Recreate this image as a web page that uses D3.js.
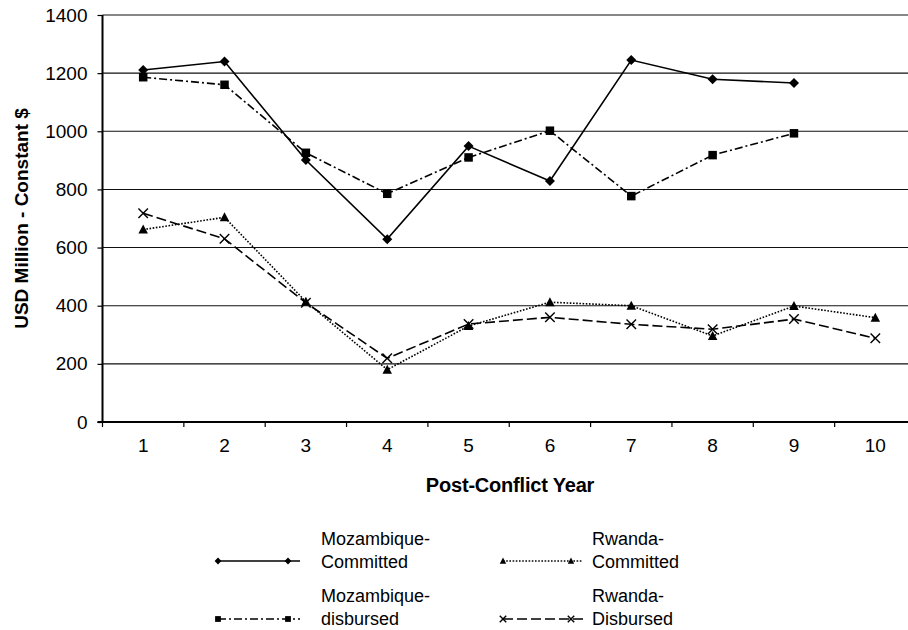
<!DOCTYPE html>
<html>
<head>
<meta charset="utf-8">
<script src="https://cdn.jsdelivr.net/npm/d3@7"></script>
<style>
  html, body { margin: 0; padding: 0; background: #fff; }
  svg { display: block; overflow: hidden; }
  text { font-family: "Liberation Sans", Arial, Helvetica, sans-serif; fill: #000; }
</style>
</head>
<body>
<svg id="chart" width="908" height="630"></svg>
<script>
// Post-conflict aid flows, USD million (constant $)
const years = ["1", "2", "3", "4", "5", "6", "7", "8", "9", "10"];
const yTicks = [0, 200, 400, 600, 800, 1000, 1200, 1400];

const mozCommitted = [1211, 1240, 901, 629, 949, 829, 1245, 1179, 1166];
const mozDisbursed = [1186, 1160, 926, 785, 910, 1002, 777, 918, 993];
const rwaCommitted = [662, 704, 414, 180, 330, 412, 400, 296, 399, 359];
const rwaDisbursed = [718, 630, 410, 219, 337, 360, 336, 319, 354, 288];

const seriesNames = ["Mozambique-Committed", "Rwanda-Committed", "Mozambique-disbursed", "Rwanda-Disbursed"];

const series = [
  { name: seriesNames[0], lines: ["Mozambique-", "Committed"], values: mozCommitted, dash: null, marker: "diamond" },
  { name: seriesNames[1], lines: ["Rwanda-", "Committed"], values: rwaCommitted, dash: "1.6,1.6", marker: "triangle" },
  { name: seriesNames[2], lines: ["Mozambique-", "disbursed"], values: mozDisbursed, dash: "8,3,2,3", marker: "square" },
  { name: seriesNames[3], lines: ["Rwanda-", "Disbursed"], values: rwaDisbursed, dash: "10,4", marker: "cross" }
];

const svg = d3.select("#chart");
const plotLeft = 102.5, plotRight = 916, plotTop = 15, plotBottom = 422;

const x = d3.scaleBand().domain(years).range([plotLeft, plotRight]).paddingInner(0).paddingOuter(0);
const cx = d => x(d) + x.bandwidth() / 2;
const y = d3.scaleLinear().domain([0, 1400]).range([plotBottom, plotTop]);

// horizontal gridlines
svg.append("g")
  .selectAll("line")
  .data(yTicks.filter(t => t > 0))
  .join("line")
  .attr("x1", plotLeft).attr("x2", plotRight)
  .attr("y1", d => y(d)).attr("y2", d => y(d))
  .attr("stroke", "#111").attr("stroke-width", 1.1);

// y axis
const yAxis = svg.append("g")
  .attr("transform", `translate(${plotLeft},0)`)
  .call(d3.axisLeft(y).tickValues(yTicks).tickSize(5).tickPadding(10).tickFormat(d3.format("d")));
yAxis.select(".domain").attr("stroke", "#000").attr("stroke-width", 2).attr("d", `M0,${plotTop}V${plotBottom}`);
yAxis.selectAll(".tick line").attr("stroke", "#000").attr("stroke-width", 1.2);
yAxis.selectAll(".tick text").attr("font-size", 19).attr("font-family", "Liberation Sans, Arial, sans-serif");

// x axis (labels centred in bands, ticks on band boundaries)
const xAxis = svg.append("g")
  .attr("transform", `translate(0,${plotBottom})`)
  .call(d3.axisBottom(x).tickSize(0).tickPadding(16.5));
xAxis.select(".domain").attr("stroke", "#000").attr("stroke-width", 2).attr("d", `M${plotLeft - 5},0H${plotRight}`);
xAxis.selectAll(".tick text").attr("font-size", 19).attr("font-family", "Liberation Sans, Arial, sans-serif");
svg.append("g")
  .selectAll("line")
  .data(years)
  .join("line")
  .attr("x1", d => x(d)).attr("x2", d => x(d))
  .attr("y1", plotBottom).attr("y2", plotBottom + 5)
  .attr("stroke", "#000").attr("stroke-width", 1.2);

// axis titles
svg.append("text")
  .attr("transform", `translate(28,${(plotTop + plotBottom) / 2}) rotate(-90)`)
  .attr("text-anchor", "middle")
  .attr("font-size", 19).attr("font-weight", "bold")
  .text("USD Million - Constant $");
svg.append("text")
  .attr("x", 510).attr("y", 492)
  .attr("text-anchor", "middle")
  .attr("font-size", 20).attr("font-weight", "bold")
  .attr("letter-spacing", "-0.2")
  .text("Post-Conflict Year");

// marker shapes
function drawMarker(g, type, px, py, s) {
  if (type === "diamond") {
    g.append("path").attr("d", `M${px},${py - s}L${px + s},${py}L${px},${py + s}L${px - s},${py}Z`).attr("fill", "#000");
  } else if (type === "square") {
    g.append("rect").attr("x", px - s * 0.85).attr("y", py - s * 0.85).attr("width", s * 1.7).attr("height", s * 1.7).attr("fill", "#000");
  } else if (type === "triangle") {
    g.append("path").attr("d", `M${px},${py - s}L${px + s * 0.95},${py + s * 0.8}L${px - s * 0.95},${py + s * 0.8}Z`).attr("fill", "#000");
  } else if (type === "cross") {
    const r = s * 0.95;
    g.append("path").attr("d", `M${px - r},${py - r}L${px + r},${py + r}M${px - r},${py + r}L${px + r},${py - r}`)
      .attr("stroke", "#000").attr("stroke-width", 1.4).attr("fill", "none");
  }
}

const line = d3.line().x((d, i) => cx(years[i])).y(d => y(d));

series.forEach(s => {
  const g = svg.append("g");
  g.append("path")
    .attr("d", line(s.values))
    .attr("fill", "none")
    .attr("stroke", "#000")
    .attr("stroke-width", 1.6)
    .attr("stroke-dasharray", s.dash);
  s.values.forEach((v, i) => drawMarker(g, s.marker, cx(years[i]), y(v), 5));
});

// legend
const legendPos = [
  { lx: 218, tx: 321, ly: 561, ty: 545 },
  { lx: 503, tx: 592, ly: 561, ty: 545 },
  { lx: 218, tx: 321, ly: 619, ty: 602 },
  { lx: 503, tx: 592, ly: 619, ty: 602 }
];
series.forEach((s, k) => {
  const p = legendPos[k];
  const g = svg.append("g");
  const w = k % 2 === 0 ? 82 : 80;
  g.append("line")
    .attr("x1", p.lx).attr("x2", p.lx + w)
    .attr("y1", p.ly).attr("y2", p.ly)
    .attr("stroke", "#000").attr("stroke-width", 1.6)
    .attr("stroke-dasharray", s.dash);
  drawMarker(g, s.marker, p.lx, p.ly, 3.4);
  drawMarker(g, s.marker, p.lx + w - 12, p.ly, 3.4);
  s.lines.forEach((t, j) => {
    g.append("text")
      .attr("x", p.tx).attr("y", p.ty + j * 23)
      .attr("font-size", 18)
      .text(t);
  });
});
</script>
</body>
</html>
